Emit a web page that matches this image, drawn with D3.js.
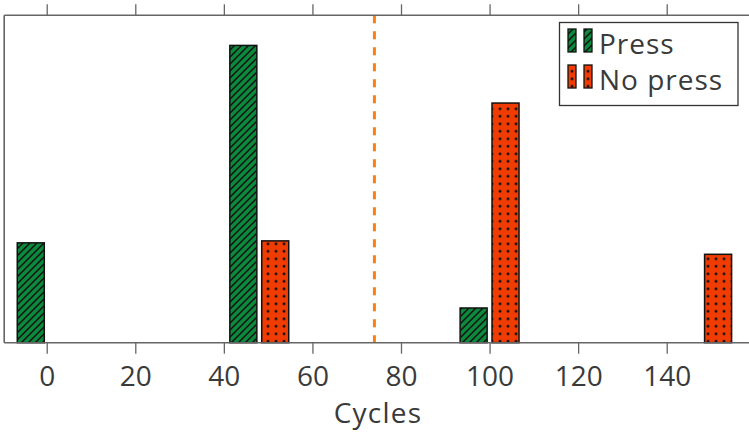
<!DOCTYPE html>
<html><head><meta charset="utf-8">
<script src="https://cdn.jsdelivr.net/npm/d3@7"></script>
<style>
html,body{margin:0;padding:0;background:#fff;}
svg{display:block;font-family:"Open Sans",sans-serif;}
</style></head>
<body><svg id="c" width="749" height="432"></svg>
<script>
// Data
const pressCycles = [0, 48, 100];
const pressValues = [0.305, 0.908, 0.106];
const noPressCycles = [48, 100, 148];
const noPressValues = [0.311, 0.732, 0.270];
const xTicks = [0, 20, 40, 60, 80, 100, 120, 140];
const markerCycle = 74;
const legendLabels = ["Press", "No press"];
const xLabel = "Cycles";

(function(){
const svg = d3.select("#c");
const W = 749, H = 432;
const pl = 4.2, pr = 748.2, pt = 15.3, pb = 342.7;
const x = d3.scaleLinear().domain([-9.6, 158.4]).range([pl, pr]);
const y = d3.scaleLinear().domain([0, 1]).range([pb, pt]);
const offset = 3.6, bw = 6.1;
const green = "#0b8a3e", red = "#f03c00";
const textColor = "#3a3a3a";

const defs = svg.append("defs");
const hatch = defs.append("pattern").attr("id","hatch").attr("patternUnits","userSpaceOnUse")
  .attr("width",7).attr("height",7);
hatch.append("rect").attr("width",7).attr("height",7).attr("fill",green);
hatch.append("path").attr("d","M-1,1 l2,-2 M0,7 l7,-7 M6,8 l2,-2").attr("stroke","#111").attr("stroke-width",1.5);
const dots = defs.append("pattern").attr("id","dots").attr("patternUnits","userSpaceOnUse")
  .attr("width",8).attr("height",7.5);
dots.append("rect").attr("width",8).attr("height",7.5).attr("fill",red);
dots.append("circle").attr("cx",4).attr("cy",3.75).attr("r",1.5).attr("fill","#111");

// Bars
const bx = (c, sign) => x(c + sign*offset - bw/2);
const bwPx = x(bw) - x(0);
svg.append("g").selectAll("rect").data(pressCycles.map((c,i)=>({c,v:pressValues[i]}))).join("rect")
  .attr("x", d=>bx(d.c,-1)).attr("y", d=>y(d.v)).attr("width", bwPx).attr("height", d=>y(0)-y(d.v))
  .attr("fill","url(#hatch)").attr("stroke","#111").attr("stroke-width",1.5);
svg.append("g").selectAll("rect").data(noPressCycles.map((c,i)=>({c,v:noPressValues[i]}))).join("rect")
  .attr("x", d=>bx(d.c,1)).attr("y", d=>y(d.v)).attr("width", bwPx).attr("height", d=>y(0)-y(d.v))
  .attr("fill","url(#dots)").attr("stroke","#111").attr("stroke-width",1.5);

// Dashed marker
svg.append("line").attr("x1",x(markerCycle)).attr("x2",x(markerCycle)).attr("y1",pt).attr("y2",pb)
  .attr("stroke","#ff7f0e").attr("stroke-width",3).attr("stroke-dasharray","8,8");

// Axes
const axisColor = "#666";
const gb = svg.append("g").attr("transform",`translate(0,${pb})`)
  .call(d3.axisBottom(x).tickValues(xTicks).tickSize(11).tickPadding(12).tickFormat(d3.format("d")));
gb.select(".domain").remove();
gb.selectAll("line").attr("stroke",axisColor).attr("stroke-width",1.3);
gb.selectAll("text").attr("font-size",28).attr("fill",textColor).attr("font-family","Open Sans, sans-serif");
const gt = svg.append("g").attr("transform",`translate(0,${pt})`)
  .call(d3.axisTop(x).tickValues(xTicks).tickSize(11).tickFormat(""));
gt.select(".domain").remove();
gt.selectAll("line").attr("stroke",axisColor).attr("stroke-width",1.3);

svg.append("line").attr("x1",pl).attr("x2",W).attr("y1",pb).attr("y2",pb).attr("stroke",axisColor).attr("stroke-width",1.6);
svg.append("line").attr("x1",pl).attr("x2",W).attr("y1",pt).attr("y2",pt).attr("stroke",axisColor).attr("stroke-width",1.6);
svg.append("line").attr("x1",pl).attr("x2",pl).attr("y1",pt).attr("y2",pb).attr("stroke",axisColor).attr("stroke-width",1.6);

svg.append("text").attr("x",378).attr("y",423).attr("text-anchor","middle")
  .attr("font-size",28).attr("letter-spacing",1.2).attr("fill",textColor).text(xLabel);

// Legend
const lg = svg.append("g");
lg.append("rect").attr("x",559.5).attr("y",22.5).attr("width",178.5).attr("height",83)
  .attr("fill","#fff").attr("stroke","#333").attr("stroke-width",1.3);
const fills = ["url(#hatch)","url(#dots)"];
legendLabels.forEach((lab,i)=>{
  const yy = 29 + i*36;
  [568, 584].forEach(xx=>{
    lg.append("rect").attr("x",xx).attr("y",yy).attr("width",8).attr("height",23)
      .attr("fill",fills[i]).attr("stroke","#111").attr("stroke-width",1.3);
  });
  lg.append("text").attr("x",599).attr("y",yy+25).attr("font-size",28).attr("letter-spacing",1)
    .attr("fill",textColor).text(lab);
});
})();
</script></body></html>
